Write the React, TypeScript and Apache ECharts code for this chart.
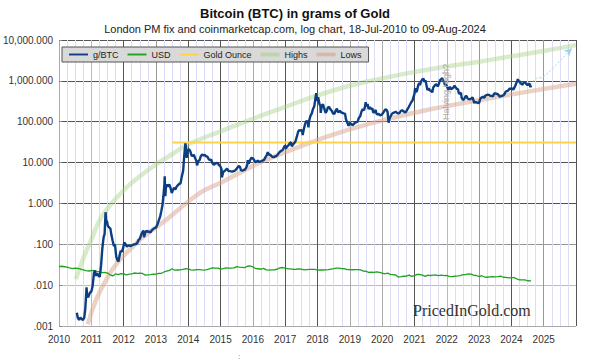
import React, { useEffect, useRef } from "react";
import * as echarts from "echarts";

// ---- Data (decimal years, grams of gold) ----
const btcGrams: [number, number][] = [
  [2010.55, 0.0021], [2010.58, 0.0016], [2010.62, 0.0014], [2010.66, 0.0016], [2010.70, 0.0015], [2010.74, 0.0014],
  [2010.78, 0.0016], [2010.81, 0.0025], [2010.84, 0.006], [2010.85, 0.0088], [2010.87, 0.0055], [2010.90, 0.005],
  [2010.93, 0.0058], [2010.96, 0.0066], [2011.00, 0.007], [2011.04, 0.0095], [2011.08, 0.02], [2011.11, 0.023],
  [2011.14, 0.017], [2011.18, 0.0195], [2011.22, 0.017], [2011.26, 0.016], [2011.30, 0.03], [2011.34, 0.08],
  [2011.38, 0.15], [2011.41, 0.18], [2011.44, 0.61], [2011.46, 0.35], [2011.48, 0.38], [2011.51, 0.28],
  [2011.55, 0.26], [2011.59, 0.24], [2011.62, 0.17], [2011.66, 0.12], [2011.70, 0.09], [2011.73, 0.1],
  [2011.77, 0.05], [2011.80, 0.042], [2011.84, 0.038], [2011.87, 0.052], [2011.91, 0.07], [2011.94, 0.065],
  [2011.98, 0.079], [2012.02, 0.11], [2012.06, 0.1], [2012.10, 0.088], [2012.14, 0.093], [2012.18, 0.094],
  [2012.22, 0.09], [2012.26, 0.095], [2012.30, 0.098], [2012.34, 0.1], [2012.38, 0.101], [2012.42, 0.108],
  [2012.46, 0.128], [2012.50, 0.135], [2012.54, 0.17], [2012.58, 0.2], [2012.62, 0.215], [2012.63, 0.15],
  [2012.67, 0.194], [2012.71, 0.215], [2012.75, 0.2], [2012.79, 0.205], [2012.83, 0.195], [2012.87, 0.22],
  [2012.91, 0.235], [2012.96, 0.25], [2013.00, 0.255], [2013.04, 0.3], [2013.08, 0.37], [2013.13, 0.48],
  [2013.16, 0.62], [2013.20, 0.9], [2013.23, 1.5], [2013.26, 2.9], [2013.27, 4.6], [2013.29, 1.5],
  [2013.31, 2.7], [2013.34, 2.9], [2013.37, 2.6], [2013.41, 2.9], [2013.45, 2.4], [2013.49, 1.8],
  [2013.52, 2.1], [2013.56, 2.4], [2013.60, 2.2], [2013.64, 2.6], [2013.68, 2.8], [2013.72, 3.0],
  [2013.76, 3.1], [2013.80, 4.6], [2013.84, 6.2], [2013.87, 13], [2013.89, 20], [2013.91, 29.5],
  [2013.93, 24], [2013.95, 13], [2013.98, 19], [2014.02, 21.5], [2014.06, 19], [2014.10, 15],
  [2014.13, 14.5], [2014.17, 15.5], [2014.21, 13], [2014.25, 11], [2014.27, 8.5], [2014.31, 10.8],
  [2014.35, 11.5], [2014.39, 14.5], [2014.43, 15.6], [2014.47, 15], [2014.51, 15.4], [2014.55, 14.3],
  [2014.59, 14], [2014.63, 12.2], [2014.67, 11.4], [2014.71, 11.8], [2014.75, 9.6], [2014.79, 8.8],
  [2014.83, 9.4], [2014.87, 9.8], [2014.91, 9.7], [2014.95, 8.7], [2014.99, 8.2], [2015.03, 6.8],
  [2015.04, 4.3], [2015.08, 5.8], [2015.12, 6.2], [2015.16, 6.6], [2015.20, 7.1], [2015.24, 6.3],
  [2015.28, 6.2], [2015.32, 6.1], [2015.36, 6.0], [2015.40, 6.2], [2015.44, 6.3], [2015.48, 6.8],
  [2015.52, 7.5], [2015.56, 8.2], [2015.60, 7.9], [2015.63, 6.5], [2015.67, 6.3], [2015.71, 6.5],
  [2015.75, 6.7], [2015.79, 7.4], [2015.83, 9.0], [2015.84, 11.5], [2015.87, 9.5], [2015.91, 11.4],
  [2015.95, 13], [2015.99, 12.8], [2016.03, 11.8], [2016.07, 10.3], [2016.11, 10.5], [2016.15, 11.2],
  [2016.19, 10.4], [2016.23, 10.6], [2016.27, 10.8], [2016.31, 11.3], [2016.35, 11.8], [2016.39, 13.6],
  [2016.43, 15.2], [2016.46, 18], [2016.49, 15.5], [2016.53, 15.8], [2016.57, 14.6], [2016.61, 13.7],
  [2016.65, 13.6], [2016.69, 14.2], [2016.73, 14.5], [2016.77, 15.8], [2016.81, 17.5], [2016.85, 18.8],
  [2016.89, 19.6], [2016.93, 20.8], [2016.97, 24.5], [2017.00, 26], [2017.02, 22], [2017.06, 24.5],
  [2017.10, 26.5], [2017.14, 29.5], [2017.18, 31.5], [2017.20, 25], [2017.24, 27.5], [2017.28, 30],
  [2017.32, 33.5], [2017.36, 43], [2017.40, 57], [2017.44, 63], [2017.48, 60], [2017.52, 62],
  [2017.54, 47], [2017.58, 68], [2017.62, 90], [2017.66, 105], [2017.70, 96], [2017.72, 73],
  [2017.74, 105], [2017.78, 138], [2017.82, 158], [2017.86, 205], [2017.90, 240], [2017.94, 400],
  [2017.96, 500], [2017.98, 350], [2018.00, 330], [2018.02, 400], [2018.06, 270], [2018.09, 240],
  [2018.10, 165], [2018.13, 250], [2018.17, 265], [2018.21, 205], [2018.25, 165], [2018.28, 180],
  [2018.32, 225], [2018.36, 230], [2018.40, 200], [2018.44, 185], [2018.48, 160], [2018.52, 155],
  [2018.56, 185], [2018.60, 210], [2018.62, 180], [2018.65, 170], [2018.69, 185], [2018.73, 170],
  [2018.77, 165], [2018.81, 160], [2018.85, 158], [2018.88, 115], [2018.92, 95], [2018.96, 80],
  [2019.00, 95], [2019.04, 88], [2019.08, 82], [2019.12, 87], [2019.16, 95], [2019.20, 97],
  [2019.24, 100], [2019.28, 125], [2019.32, 135], [2019.36, 175], [2019.40, 205], [2019.44, 190],
  [2019.47, 235], [2019.49, 300], [2019.51, 240], [2019.55, 270], [2019.58, 205], [2019.62, 225],
  [2019.66, 205], [2019.70, 210], [2019.72, 170], [2019.76, 170], [2019.80, 195], [2019.82, 160],
  [2019.86, 150], [2019.90, 155], [2019.94, 142], [2019.98, 148], [2020.02, 160], [2020.06, 180],
  [2020.10, 200], [2020.14, 195], [2020.17, 170], [2020.20, 95], [2020.23, 120], [2020.26, 135],
  [2020.30, 155], [2020.34, 165], [2020.38, 168], [2020.42, 175], [2020.46, 165], [2020.50, 160],
  [2020.54, 165], [2020.58, 185], [2020.62, 190], [2020.66, 180], [2020.70, 170], [2020.74, 175],
  [2020.78, 200], [2020.82, 225], [2020.86, 260], [2020.90, 300], [2020.94, 330], [2020.97, 400],
  [2021.00, 480], [2021.02, 660], [2021.05, 530], [2021.08, 580], [2021.12, 800], [2021.15, 880],
  [2021.17, 780], [2021.20, 950], [2021.24, 1080], [2021.28, 1130], [2021.31, 950], [2021.34, 1030],
  [2021.37, 800], [2021.40, 600], [2021.44, 650], [2021.48, 580], [2021.52, 570], [2021.55, 520],
  [2021.58, 680], [2021.62, 760], [2021.66, 830], [2021.69, 790], [2021.72, 730], [2021.75, 820],
  [2021.79, 1040], [2021.82, 1080], [2021.86, 1170], [2021.89, 1000], [2021.92, 920], [2021.94, 800],
  [2021.97, 820], [2022.01, 720], [2022.04, 620], [2022.07, 640], [2022.10, 720], [2022.13, 620],
  [2022.17, 650], [2022.21, 690], [2022.24, 770], [2022.27, 700], [2022.31, 640], [2022.35, 620],
  [2022.37, 500], [2022.40, 490], [2022.44, 510], [2022.46, 390], [2022.50, 340], [2022.54, 360],
  [2022.58, 420], [2022.62, 420], [2022.64, 370], [2022.68, 360], [2022.72, 355], [2022.76, 370],
  [2022.80, 395], [2022.85, 290], [2022.88, 300], [2022.92, 300], [2022.96, 285], [2023.00, 290],
  [2023.04, 370], [2023.08, 390], [2023.12, 410], [2023.16, 380], [2023.19, 430], [2023.23, 450],
  [2023.27, 460], [2023.31, 455], [2023.35, 430], [2023.39, 430], [2023.43, 420], [2023.47, 490],
  [2023.51, 490], [2023.55, 480], [2023.59, 465], [2023.63, 415], [2023.67, 420], [2023.71, 430],
  [2023.75, 440], [2023.79, 480], [2023.82, 540], [2023.86, 560], [2023.90, 575], [2023.94, 640],
  [2023.98, 640], [2024.02, 650], [2024.06, 610], [2024.10, 700], [2024.13, 790], [2024.16, 920],
  [2024.18, 1000], [2024.20, 1100], [2024.23, 950], [2024.25, 990], [2024.28, 880], [2024.31, 850],
  [2024.34, 800], [2024.37, 880], [2024.40, 920], [2024.44, 890], [2024.46, 840], [2024.50, 780],
  [2024.53, 830], [2024.56, 860], [2024.59, 700], [2024.61, 780],
];

const usdGrams: [number, number][] = [
  [2010.00, 0.0283], [2010.08, 0.029], [2010.17, 0.0282], [2010.25, 0.0275], [2010.33, 0.0265], [2010.42, 0.0255],
  [2010.50, 0.0262], [2010.58, 0.0256], [2010.67, 0.0245], [2010.75, 0.0235], [2010.83, 0.0226], [2010.92, 0.0222],
  [2011.00, 0.0228], [2011.08, 0.0227], [2011.17, 0.0218], [2011.25, 0.0211], [2011.33, 0.0203], [2011.42, 0.0204],
  [2011.50, 0.0198], [2011.58, 0.0179], [2011.67, 0.0168], [2011.75, 0.019], [2011.83, 0.018], [2011.92, 0.0192],
  [2012.00, 0.0188], [2012.08, 0.0179], [2012.17, 0.0186], [2012.25, 0.0188], [2012.33, 0.0198], [2012.42, 0.0195],
  [2012.50, 0.0196], [2012.58, 0.0193], [2012.67, 0.0176], [2012.75, 0.0179], [2012.83, 0.018], [2012.92, 0.0185],
  [2013.00, 0.0187], [2013.08, 0.0193], [2013.17, 0.0195], [2013.25, 0.021], [2013.33, 0.022], [2013.42, 0.023],
  [2013.50, 0.0252], [2013.58, 0.0232], [2013.67, 0.0235], [2013.75, 0.0237], [2013.83, 0.0243], [2013.92, 0.0255],
  [2014.00, 0.0248], [2014.08, 0.0236], [2014.17, 0.0232], [2014.25, 0.024], [2014.33, 0.024], [2014.42, 0.0236],
  [2014.50, 0.0234], [2014.58, 0.024], [2014.67, 0.0253], [2014.75, 0.0266], [2014.83, 0.0262], [2014.92, 0.026],
  [2015.00, 0.0246], [2015.08, 0.0255], [2015.17, 0.0263], [2015.25, 0.0262], [2015.33, 0.0261], [2015.42, 0.0265],
  [2015.50, 0.0285], [2015.58, 0.0276], [2015.67, 0.0273], [2015.75, 0.0268], [2015.83, 0.029], [2015.92, 0.0294],
  [2016.00, 0.028], [2016.08, 0.0255], [2016.17, 0.0252], [2016.25, 0.0245], [2016.33, 0.0257], [2016.42, 0.0236],
  [2016.50, 0.0232], [2016.58, 0.0236], [2016.67, 0.0238], [2016.75, 0.0245], [2016.83, 0.0265], [2016.92, 0.027],
  [2017.00, 0.026], [2017.08, 0.0249], [2017.17, 0.025], [2017.25, 0.0244], [2017.33, 0.0245], [2017.42, 0.025],
  [2017.50, 0.0246], [2017.58, 0.0235], [2017.67, 0.0241], [2017.75, 0.0243], [2017.83, 0.0243], [2017.92, 0.0242],
  [2018.00, 0.0232], [2018.08, 0.0235], [2018.17, 0.0235], [2018.25, 0.0237], [2018.33, 0.024], [2018.42, 0.0248],
  [2018.50, 0.0253], [2018.58, 0.0262], [2018.67, 0.0261], [2018.75, 0.0253], [2018.83, 0.0252], [2018.92, 0.0241],
  [2019.00, 0.024], [2019.08, 0.0238], [2019.17, 0.024], [2019.25, 0.0241], [2019.33, 0.0236], [2019.42, 0.0221],
  [2019.50, 0.0219], [2019.58, 0.0205], [2019.67, 0.0207], [2019.75, 0.0206], [2019.83, 0.0212], [2019.92, 0.0205],
  [2020.00, 0.0198], [2020.08, 0.0188], [2020.17, 0.0197], [2020.25, 0.0184], [2020.33, 0.0181], [2020.42, 0.0177],
  [2020.50, 0.0158], [2020.58, 0.0161], [2020.67, 0.0165], [2020.75, 0.0167], [2020.83, 0.0176], [2020.92, 0.0164],
  [2021.00, 0.017], [2021.08, 0.0183], [2021.17, 0.0182], [2021.25, 0.0175], [2021.33, 0.0164], [2021.42, 0.0176],
  [2021.50, 0.0172], [2021.58, 0.0175], [2021.67, 0.0177], [2021.75, 0.0171], [2021.83, 0.0175], [2021.92, 0.0171],
  [2022.00, 0.0172], [2022.08, 0.0164], [2022.17, 0.0162], [2022.25, 0.0165], [2022.33, 0.0168], [2022.42, 0.0172],
  [2022.50, 0.018], [2022.58, 0.0181], [2022.67, 0.0188], [2022.75, 0.0187], [2022.83, 0.0175], [2022.92, 0.0172],
  [2023.00, 0.0162], [2023.08, 0.017], [2023.17, 0.0158], [2023.25, 0.0156], [2023.33, 0.0159], [2023.42, 0.0162],
  [2023.50, 0.016], [2023.58, 0.0161], [2023.67, 0.0166], [2023.75, 0.0156], [2023.83, 0.0155], [2023.92, 0.0151],
  [2024.00, 0.0153], [2024.08, 0.0152], [2024.17, 0.0142], [2024.25, 0.0134], [2024.33, 0.0135], [2024.42, 0.0135],
  [2024.50, 0.0128], [2024.61, 0.0127],
];

const goldOunce: [number, number][] = [[2013.5, 31.1], [2026.0, 31.1]];

const highs: [number, number][] = [
  [2010.52, 0.014], [2010.75, 0.045], [2011.0, 0.13], [2011.25, 0.38], [2011.5, 0.75], [2012.0, 2.1],
  [2012.5, 4.6], [2013.0, 9], [2013.5, 16], [2014.0, 28], [2015.0, 58], [2016.0, 118], [2017.0, 230],
  [2018.0, 440], [2019.0, 760], [2020.0, 1150], [2021.0, 1650], [2022.0, 2250], [2023.0, 2950],
  [2024.0, 4000], [2025.0, 5400], [2026.0, 7500],
];

const lows: [number, number][] = [
  [2010.89, 0.0011], [2011.15, 0.0044], [2011.46, 0.0135], [2011.8, 0.035], [2012.19, 0.074], [2012.6, 0.15],
  [2013.32, 0.4], [2014.35, 1.78], [2015.0, 3.2], [2016.22, 10], [2017.45, 24.5], [2018.02, 36],
  [2019.0, 65], [2020.24, 120], [2021.48, 200], [2022.82, 316], [2024.6, 560], [2026.0, 850],
];

const projection: [number, number][] = [
  [2024.61, 780], [2024.68, 1000], [2024.78, 1150], [2024.99, 1250], [2025.88, 6300],
];

const yTickLabels = [".001", ".010", ".100", "1.000", "10.000", "100.000", "1,000.000", "10,000.000"];
const xTickLabels = [
  "2010", "2011", "2012", "2013", "2014", "2015", "2016", "2017", "2018", "2019",
  "2020", "2021", "2022", "2023", "2024", "2025", "",
];

const FONT = "Liberation Sans, Arial, sans-serif";
const THIN_ICON = "path://M0 0H20V2H0Z";
const THICK_ICON = "path://M0 0H20V4H0Z";

export default function App() {
  const ref = useRef<HTMLDivElement>(null);
  useEffect(() => {
    if (!ref.current) return;
    const chart = echarts.init(ref.current, undefined, { renderer: "svg" });
    const yearColors = [
      "#aaa", "#bbb", "#555", "#999", "#555", "#555", "#aaa", "#555", "#555",
      "#aaa", "#aaa", "#555", "#bbb", "#999", "#555", "#999", "#555",
    ];
    const decadeColors = ["#aaa", "#bbb", "#999", "#555", "#555", "#555", "#555", "#555"];
    const projData: any[] = projection.map((p, i) =>
      i === projection.length - 1
        ? { value: p, symbol: "arrow", symbolSize: [6, 8], symbolRotate: -47 }
        : { value: p, symbol: "none" }
    );
    chart.setOption({
      animation: false,
      backgroundColor: "#ffffff",
      textStyle: { fontFamily: FONT },
      title: [
        {
          text: "Bitcoin (BTC) in grams of Gold",
          left: "center",
          top: 7,
          padding: 0,
          textStyle: { fontSize: 13, fontWeight: "bold", color: "#111", fontFamily: FONT },
        },
        {
          text: "London PM fix and coinmarketcap.com, log chart, 18-Jul-2010 to 09-Aug-2024",
          left: "center",
          top: 23,
          padding: 0,
          textStyle: { fontSize: 11, fontWeight: "normal", color: "#222", fontFamily: FONT },
        },
      ],
      legend: {
        left: 62,
        top: 47,
        padding: [3, 7, 3, 7],
        backgroundColor: "#d9d9d9",
        borderColor: "#555",
        borderWidth: 1,
        borderRadius: 0,
        itemWidth: 19,
        itemHeight: 10,
        itemGap: 9,
        textStyle: { fontSize: 9, color: "#222", fontFamily: FONT },
        data: [
          { name: "g/BTC", icon: THIN_ICON },
          { name: "USD", icon: THIN_ICON },
          { name: "Gold Ounce", icon: THIN_ICON },
          { name: "Highs", icon: THICK_ICON },
          { name: "Lows", icon: THICK_ICON },
        ],
      },
      grid: { left: 59, right: 14, top: 40, bottom: 37, show: true, backgroundColor: "#fff", borderWidth: 0 },
      xAxis: {
        type: "value",
        min: 2010,
        max: 2026,
        interval: 1,
        axisLine: { show: false },
        axisTick: { show: false },
        axisLabel: {
          color: "#333",
          fontSize: 10,
          margin: 8,
          fontFamily: FONT,
          formatter: (v: number) => xTickLabels[Math.round(v - 2010)] ?? "",
        },
        splitLine: { show: true, lineStyle: { color: yearColors, width: 1 } },
        minorTick: { show: false, splitNumber: 4 },
        minorSplitLine: { show: true, lineStyle: { color: "#dcdcf6", width: 1 } },
      },
      yAxis: {
        type: "log",
        logBase: 10,
        min: 0.001,
        max: 10000,
        axisLine: { show: false },
        axisTick: { show: true, inside: true, length: 3, lineStyle: { color: "#888" } },
        axisLabel: {
          color: "#333",
          fontSize: 10,
          margin: 6,
          fontFamily: FONT,
          formatter: (v: number) => yTickLabels[Math.round(Math.log10(v)) + 3] ?? "",
        },
        splitLine: { show: true, lineStyle: { color: decadeColors, width: 1 } },
      },
      series: [
        {
          name: "Highs",
          type: "line",
          data: highs,
          smooth: true,
          symbol: "none",
          lineStyle: { width: 4.5, color: "rgba(170,210,140,0.45)" },
          itemStyle: { color: "rgba(170,210,140,0.6)" },
          z: 1,
        },
        {
          name: "Lows",
          type: "line",
          data: lows,
          smooth: true,
          symbol: "none",
          lineStyle: { width: 4.5, color: "rgba(218,165,140,0.5)" },
          itemStyle: { color: "rgba(218,165,140,0.65)" },
          z: 1,
        },
        {
          name: "Gold Ounce",
          type: "line",
          data: goldOunce,
          symbol: "none",
          lineStyle: { width: 2, color: "#ffd24a" },
          itemStyle: { color: "#ffd24a" },
          z: 2,
        },
        {
          name: "USD",
          type: "line",
          data: usdGrams,
          symbol: "none",
          lineStyle: { width: 1.3, color: "#1ea31e" },
          itemStyle: { color: "#1ea31e" },
          z: 3,
        },
        {
          name: "projection",
          type: "line",
          data: projData,
          smooth: 0.3,
          showSymbol: true,
          symbol: "none",
          lineStyle: { width: 1, color: "#9fd0f2", type: [2, 2] },
          itemStyle: { color: "#9fd0f2" },
          z: 3,
        },
        {
          name: "g/BTC",
          type: "line",
          data: btcGrams,
          symbol: "none",
          lineStyle: { width: 2.4, color: "#0c3f82" },
          itemStyle: { color: "#0c3f82" },
          z: 4,
        },
      ],
      graphic: [
        {
          type: "text",
          left: 413,
          top: 302,
          style: { text: "PricedInGold.com", font: "16px 'Liberation Serif', serif", fill: "#333" },
          z: 10,
        },
        {
          type: "text",
          x: 446,
          y: 92,
          rotation: Math.PI / 2,
          style: {
            text: "Halving High?",
            font: "9px 'Liberation Sans', sans-serif",
            fill: "#aaaaaa",
            align: "center",
            verticalAlign: "middle",
          },
          z: 10,
        },
        {
          type: "text",
          left: 238,
          top: 352,
          style: { text: ":", font: "8px 'Liberation Sans', sans-serif", fill: "#666" },
        },
      ],
    });
    return () => chart.dispose();
  }, []);
  return (
    <div
      ref={ref}
      style={{ position: "absolute", left: 0, top: 0, width: 590, height: 363, background: "#fff" }}
    />
  );
}
